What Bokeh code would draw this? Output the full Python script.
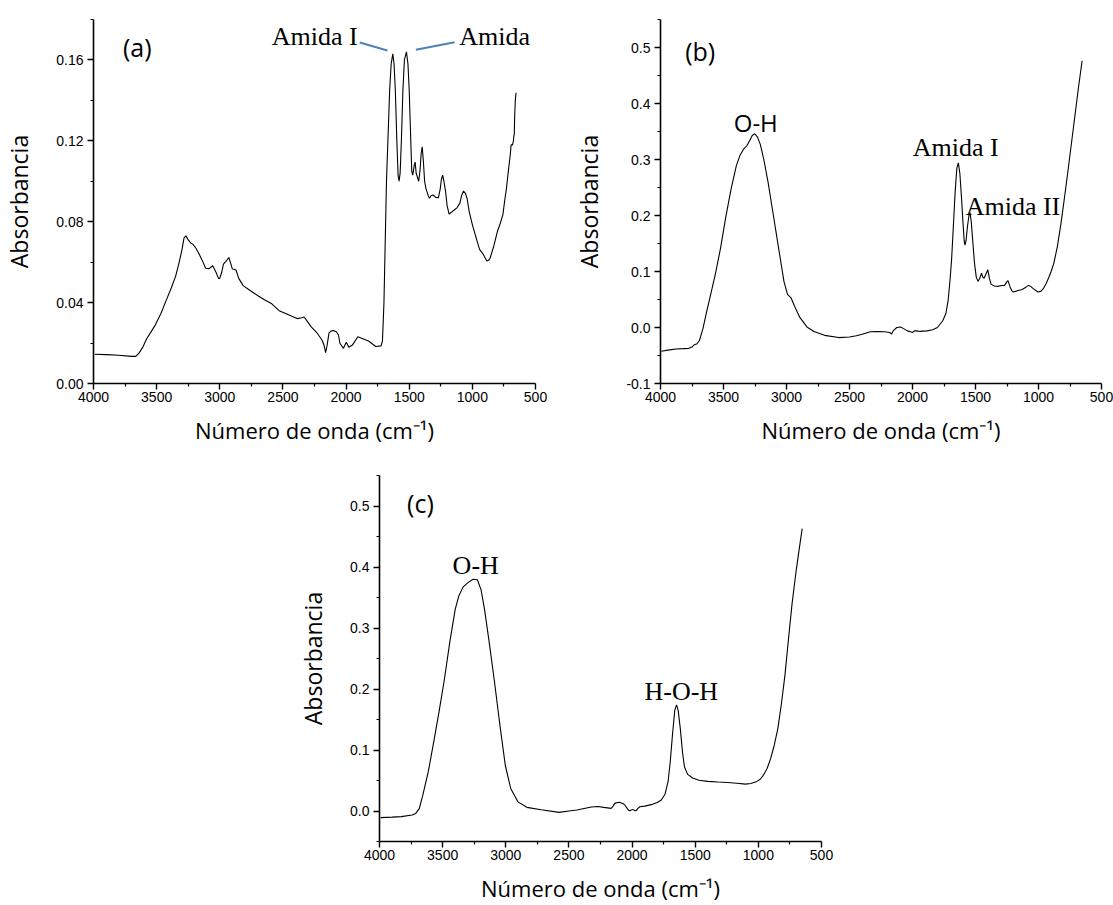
from bokeh.plotting import figure
from bokeh.models import Range1d, FixedTicker, PrintfTickFormatter, Label, Spacer
from bokeh.layouts import column, row
from bokeh.embed import file_html
from bokeh.resources import INLINE

# ---------------- data ----------------
x_major = [4000, 3500, 3000, 2500, 2000, 1500, 1000, 500]
x_minor = [3750, 3250, 2750, 2250, 1750, 1250, 750]

wn_a = [3990, 3900, 3800, 3700, 3665, 3640, 3609, 3580, 3552, 3510, 3467, 3425, 3382, 3350,
        3325, 3300, 3283, 3268, 3250, 3230, 3212, 3190, 3169, 3140, 3112, 3085, 3056, 3030,
        3010, 3000, 2985, 2971, 2950, 2928, 2912, 2900, 2885, 2871, 2850, 2815, 2760, 2701,
        2650, 2588, 2530, 2474, 2420, 2389, 2350, 2332, 2310, 2276, 2230, 2191, 2175, 2162,
        2150, 2135, 2120, 2100, 2077, 2060, 2049, 2021, 1998, 1978, 1950, 1907, 1822, 1765,
        1723, 1712, 1700, 1690, 1680, 1666, 1655, 1643, 1630, 1620, 1610, 1598, 1588, 1580,
        1572, 1562, 1550, 1538, 1522, 1510, 1500, 1490, 1480, 1472, 1460, 1453, 1445, 1435,
        1425, 1415, 1405, 1397, 1388, 1378, 1368, 1350, 1340, 1325, 1311, 1290, 1269, 1255,
        1245, 1235, 1225, 1212, 1200, 1184, 1160, 1141, 1120, 1099, 1085, 1070, 1055, 1042,
        1025, 1000, 970, 943, 915, 886, 870, 858, 830, 801, 780, 758, 745, 730, 715, 700, 693,
        682, 675, 671, 668, 665, 660, 654]
abs_a = [0.0145, 0.0143, 0.0140, 0.0134, 0.0134, 0.0150, 0.0180, 0.0220, 0.0248, 0.0290,
         0.0345, 0.0410, 0.0476, 0.0530, 0.0590, 0.0660, 0.0720, 0.0730, 0.0710, 0.0695,
         0.0688, 0.0670, 0.0647, 0.0610, 0.0570, 0.0568, 0.0582, 0.0550, 0.0520, 0.0520,
         0.0550, 0.0590, 0.0605, 0.0623, 0.0590, 0.0566, 0.0565, 0.0560, 0.0520, 0.0484,
         0.0460, 0.0435, 0.0415, 0.0394, 0.0360, 0.0345, 0.0330, 0.0321, 0.0325, 0.0329,
         0.0310, 0.0280, 0.0250, 0.0215, 0.0190, 0.0153, 0.0190, 0.0250, 0.0259, 0.0262,
         0.0256, 0.0240, 0.0199, 0.0174, 0.0204, 0.0179, 0.0190, 0.0231, 0.0210, 0.0183,
         0.0186, 0.0210, 0.0400, 0.0700, 0.1000, 0.1250, 0.1450, 0.1580, 0.1630, 0.1580,
         0.1450, 0.1200, 0.1030, 0.1000, 0.1040, 0.1200, 0.1450, 0.1600, 0.1640, 0.1580,
         0.1450, 0.1250, 0.1050, 0.1030, 0.1080, 0.1095, 0.1040, 0.1020, 0.1000, 0.1050,
         0.1140, 0.1170, 0.1100, 0.1000, 0.0965, 0.0930, 0.0916, 0.0930, 0.0932, 0.0920,
         0.0919, 0.0960, 0.1010, 0.1030, 0.1000, 0.0949, 0.0880, 0.0838, 0.0850, 0.0859,
         0.0870, 0.0892, 0.0930, 0.0952, 0.0940, 0.0916, 0.0850, 0.0786, 0.0720, 0.0663,
         0.0640, 0.0606, 0.0610, 0.0623, 0.0680, 0.0753, 0.0790, 0.0835, 0.0900, 0.0965,
         0.1050, 0.1130, 0.1180, 0.1180, 0.1200, 0.1226, 0.1230, 0.1320, 0.1400, 0.1438]

wn_b = [3992, 3930, 3874, 3820, 3776, 3750, 3734, 3710, 3692, 3664, 3636, 3608, 3566, 3524,
        3482, 3440, 3398, 3370, 3342, 3314, 3292, 3272, 3252, 3230, 3208, 3180, 3146, 3104,
        3062, 3020, 2992, 2964, 2936, 2894, 2838, 2782, 2698, 2586, 2500, 2446, 2400, 2334,
        2280, 2222, 2180, 2166, 2150, 2124, 2096, 2070, 2040, 2010, 1998, 1985, 1970, 1940,
        1886, 1840, 1802, 1760, 1735, 1718, 1704, 1690, 1676, 1662, 1648, 1636, 1624, 1612,
        1600, 1590, 1584, 1575, 1564, 1552, 1544, 1534, 1522, 1508, 1494, 1480, 1466, 1452,
        1442, 1432, 1418, 1402, 1390, 1376, 1350, 1326, 1290, 1270, 1250, 1242, 1225, 1210,
        1200, 1160, 1130, 1100, 1080, 1060, 1040, 1004, 980, 960, 940, 920, 900, 878, 850,
        822, 795, 766, 738, 710, 682, 654]
abs_b = [-0.0424, -0.0400, -0.0383, -0.0378, -0.0372, -0.0350, -0.0312, -0.0290, -0.0236,
         -0.0030, 0.0260, 0.0530, 0.0940, 0.1410, 0.1970, 0.2470, 0.2890, 0.3070, 0.3180,
         0.3250, 0.3340, 0.3430, 0.3460, 0.3400, 0.3270, 0.3000, 0.2590, 0.2000, 0.1410,
         0.0820, 0.0590, 0.0530, 0.0380, 0.0180, 0.0010, -0.0070, -0.0140, -0.0180, -0.0170,
         -0.0148, -0.0120, -0.0077, -0.0072, -0.0077, -0.0089, -0.0118, -0.0050, 0.0000,
         0.0010, -0.0020, -0.0060, -0.0080, -0.0089, -0.0060, -0.0060, -0.0070, -0.0060,
         -0.0040, 0.0000, 0.0120, 0.0250, 0.0470, 0.0800, 0.1200, 0.1800, 0.2400, 0.2850,
         0.2940, 0.2750, 0.2350, 0.1900, 0.1550, 0.1470, 0.1550, 0.1800, 0.2000, 0.2050,
         0.1900, 0.1550, 0.1150, 0.0900, 0.0824, 0.0880, 0.0970, 0.0900, 0.0880, 0.0950,
         0.1030, 0.0880, 0.0770, 0.0740, 0.0735, 0.0750, 0.0753, 0.0820, 0.0836, 0.0720,
         0.0650, 0.0635, 0.0660, 0.0677, 0.0720, 0.0753, 0.0730, 0.0690, 0.0635, 0.0650,
         0.0700, 0.0780, 0.0883, 0.1000, 0.1150, 0.1450, 0.1850, 0.2300, 0.2800, 0.3300,
         0.3800, 0.4300, 0.4760]

wn_c = [3991, 3900, 3827, 3742, 3713, 3685, 3657, 3614, 3571, 3529, 3486, 3444, 3401, 3373,
        3339, 3302, 3259, 3225, 3196, 3168, 3131, 3089, 3046, 3004, 2961, 2904, 2833, 2720,
        2578, 2500, 2436, 2380, 2322, 2270, 2223, 2166, 2150, 2138, 2115, 2095, 2070, 2053,
        2035, 2024, 2010, 1996, 1982, 1968, 1955, 1939, 1900, 1840, 1800, 1769, 1740, 1715,
        1698, 1680, 1662, 1648, 1635, 1618, 1600, 1585, 1560, 1520, 1471, 1400, 1320, 1244,
        1170, 1102, 1060, 1017, 985, 960, 930, 903, 875, 846, 818, 790, 760, 733, 700, 676,
        653]
abs_c = [-0.0109, -0.0100, -0.0092, -0.0065, -0.0040, 0.0040, 0.0260, 0.0640, 0.1130,
         0.1620, 0.2160, 0.2760, 0.3300, 0.3520, 0.3670, 0.3740, 0.3800, 0.3790, 0.3630,
         0.3300, 0.2760, 0.2110, 0.1400, 0.0750, 0.0370, 0.0150, 0.0060, 0.0020, -0.0022,
         0.0000, 0.0016, 0.0040, 0.0065, 0.0075, 0.0060, 0.0043, 0.0080, 0.0125, 0.0140,
         0.0141, 0.0120, 0.0087, 0.0030, 0.0005, 0.0010, 0.0027, 0.0010, 0.0005, 0.0040,
         0.0070, 0.0080, 0.0109, 0.0140, 0.0180, 0.0270, 0.0480, 0.0800, 0.1250, 0.1650,
         0.1740, 0.1650, 0.1350, 0.0950, 0.0720, 0.0600, 0.0540, 0.0505, 0.0485, 0.0475,
         0.0467, 0.0455, 0.0440, 0.0450, 0.0478, 0.0520, 0.0587, 0.0700, 0.0858, 0.1070,
         0.1347, 0.1750, 0.2215, 0.2850, 0.3400, 0.3950, 0.4300, 0.4630]

# pointer lines in panel (a)
ptr1_x = [1892, 1673]
ptr1_y = [0.1686, 0.1647]
ptr2_x = [1447, 1141]
ptr2_y = [0.1650, 0.1688]

AXIS_FONT = "Open Sans"
TICK_FONT = "Liberation Sans"
SERIF = "Liberation Serif"


def make_fig(width, height, ylo, yhi, ymaj, ymin, fmt, left, right, top, bottom):
    p = figure(width=width, height=height, x_range=Range1d(4000, 500),
               y_range=Range1d(ylo, yhi), output_backend="svg", toolbar_location=None,
               min_border_left=left, min_border_right=right, min_border_top=top,
               min_border_bottom=bottom)
    p.outline_line_color = None
    p.grid.visible = False
    p.background_fill_color = "white"
    p.border_fill_color = "white"
    p.xaxis.ticker = FixedTicker(ticks=x_major, minor_ticks=x_minor)
    p.yaxis.ticker = FixedTicker(ticks=ymaj, minor_ticks=ymin)
    p.yaxis.formatter = PrintfTickFormatter(format=fmt)
    for ax in (p.xaxis[0], p.yaxis[0]):
        ax.axis_line_width = 1.6
        ax.axis_line_color = "black"
        ax.major_tick_line_width = 1.4
        ax.minor_tick_line_width = 1.2
        ax.major_tick_in = 0
        ax.major_tick_out = 6
        ax.minor_tick_in = 0
        ax.minor_tick_out = 3
        ax.major_label_text_font = TICK_FONT
        ax.major_label_text_font_size = "14px"
        ax.major_label_text_color = "black"
        ax.axis_label_text_font = AXIS_FONT
        ax.axis_label_text_font_size = "22px"
        ax.axis_label_text_font_style = "normal"
        ax.axis_label_text_color = "black"
    p.yaxis.axis_label_text_font_size = "23px"
    p.xaxis.major_label_standoff = 2
    p.yaxis.major_label_standoff = 4
    p.xaxis.axis_label = "Número de onda (cm⁻¹)"
    p.yaxis.axis_label = "Absorbancia"
    p.xaxis.axis_label_standoff = 10
    p.yaxis.axis_label_standoff = 18
    return p


def lab(p, x, y, text, font, size, align="center", baseline="alphabetic"):
    p.add_layout(Label(x=x, y=y, text=text, text_font=font, text_font_size=size,
                       text_align=align, text_baseline=baseline, text_color="black"))


# ---------------- panel (a) ----------------
pa = make_fig(565, 450, 0.0, 0.18, [0.0, 0.04, 0.08, 0.12, 0.16],
              [0.02, 0.06, 0.10, 0.14, 0.18], "%.2f", 93, 30, 19, 63)
pa.line(wn_a, abs_a, line_color="black", line_width=1.1)
pa.line(ptr1_x, ptr1_y, line_color="#4F81BD", line_width=2)
pa.line(ptr2_x, ptr2_y, line_color="#4F81BD", line_width=2)
lab(pa, 3654, 0.1662, "(a)", AXIS_FONT, "25px", baseline="middle")
lab(pa, 2589, 0.1716, "Amida I", SERIF, "26px", align="left")
lab(pa, 1104, 0.1716, "Amida", SERIF, "26px", align="left")

# ---------------- panel (b) ----------------
pb = make_fig(548, 450, -0.1, 0.55, [-0.1, 0.0, 0.1, 0.2, 0.3, 0.4, 0.5],
              [-0.05, 0.05, 0.15, 0.25, 0.35, 0.45, 0.55], "%.1f", 95, 12, 15, 67)
pb.line(wn_b, abs_b, line_color="black", line_width=1.1)
lab(pb, 3685, 0.4933, "(b)", AXIS_FONT, "25px", baseline="middle")
lab(pb, 3244, 0.3652, "O-H", AXIS_FONT, "24px")
lab(pb, 1998, 0.321, "Amida I", SERIF, "26px", align="left")
lab(pb, 1578, 0.2163, "Amida II", SERIF, "26px", align="left")

# ---------------- panel (c) ----------------
pc = make_fig(566, 455, -0.05, 0.55, [0.0, 0.1, 0.2, 0.3, 0.4, 0.5],
              [-0.05, 0.05, 0.15, 0.25, 0.35, 0.45, 0.55], "%.1f", 94, 30, 25, 62)
pc.line(wn_c, abs_c, line_color="black", line_width=1.1)
lab(pc, 3676, 0.5044, "(c)", AXIS_FONT, "25px", baseline="middle")
lab(pc, 3238, 0.4022, "O-H", SERIF, "26px")
lab(pc, 1610, 0.1956, "H-O-H", SERIF, "26px")

layout = column(row(pa, pb), row(Spacer(width=285, height=455), pc))

open("out.html", "w").write(file_html(layout, INLINE))
